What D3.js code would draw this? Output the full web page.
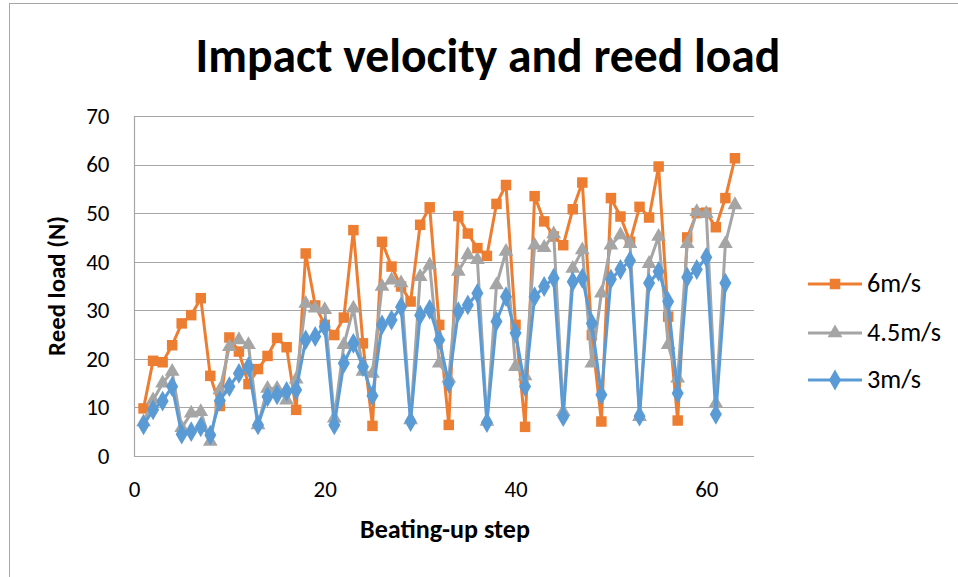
<!DOCTYPE html>
<html>
<head>
<meta charset="utf-8">
<script src="https://cdn.jsdelivr.net/npm/d3@7"></script>
<style>
  html, body { margin: 0; padding: 0; background: #fff; }
  svg { display: block; }
  text { font-family: Carlito, Calibri, Lato, "Open Sans", sans-serif; fill: #000; }
</style>
</head>
<body>
<svg id="chart" width="958" height="577"></svg>
<script>
// Beating-up step numbers and reed loads (N) for three impact velocities
const steps6 = d3.range(1, 64);
const steps45 = d3.range(1, 64);
const steps3 = d3.range(1, 63);

const load6 = [
  9.8, 19.6, 19.3, 22.8, 27.3, 29.0, 32.5, 16.5, 10.3, 24.4,
  21.5, 14.8, 17.9, 20.6, 24.3, 22.4, 9.5, 41.7, 31.0, 27.0,
  24.9, 28.5, 46.5, 23.2, 6.2, 44.1, 39.0, 34.9, 31.8, 47.6,
  51.2, 27.0, 6.4, 49.4, 45.8, 42.8, 41.2, 51.9, 55.8, 27.0,
  6.0, 53.5, 48.3, 45.2, 43.4, 50.8, 56.3, 24.9, 7.1, 53.1,
  49.3, 44.1, 51.3, 49.1, 59.6, 28.7, 7.3, 45.0, 50.0, 50.1,
  47.1, 53.1, 61.3
];
const load45 = [
  7.0, 11.5, 15.0, 17.4, 5.8, 8.8, 9.1, 3.0, 13.6, 22.5,
  23.9, 22.9, 6.4, 13.9, 13.9, 11.5, 15.8, 31.4, 30.4, 30.1,
  7.8, 22.9, 30.4, 17.4, 17.0, 34.9, 36.2, 35.6, 7.4, 36.9,
  39.3, 19.1, 16.0, 38.0, 41.4, 40.4, 7.1, 35.2, 42.1, 18.4,
  16.5, 43.4, 42.9, 45.7, 9.1, 38.6, 42.4, 19.1, 33.5, 43.4,
  45.5, 43.7, 8.1, 39.6, 45.2, 22.9, 16.0, 43.7, 50.3, 49.9,
  10.8, 43.7, 51.7
];
const load3 = [
  6.4, 9.5, 11.3, 14.3, 4.5, 5.0, 6.0, 4.3, 11.4, 14.3,
  17.0, 18.4, 6.4, 12.2, 12.6, 13.3, 13.6, 23.9, 24.6, 26.6,
  6.4, 19.1, 23.2, 18.4, 12.4, 27.0, 28.0, 30.7, 7.1, 29.0,
  30.2, 23.9, 15.0, 29.7, 31.1, 33.5, 6.9, 27.7, 32.8, 25.3,
  14.3, 32.8, 34.9, 36.6, 8.1, 35.9, 36.6, 27.3, 12.6, 36.4,
  38.4, 40.2, 8.2, 35.6, 38.0, 31.8, 12.9, 36.8, 38.4, 40.9,
  8.6, 35.6
];

const seriesNames = ["6m/s", "4.5m/s", "3m/s"];
const seriesColors = ["#ED7D31", "#A5A5A5", "#5B9BD5"];
const seriesSymbols = [d3.symbolSquare, d3.symbolTriangle, d3.symbolDiamond];
const seriesSizes = [110, 95, 125];

const xTicks = [0, 20, 40, 60];
const yTicks = [0, 10, 20, 30, 40, 50, 60, 70];

const titleText = "Impact velocity and reed load";
const xTitle = "Beating-up step";
const yTitle = "Reed load (N)";

const series = [
  { name: seriesNames[0], xs: steps6, ys: load6 },
  { name: seriesNames[1], xs: steps45, ys: load45 },
  { name: seriesNames[2], xs: steps3, ys: load3 }
];

const svg = d3.select("#chart");
const W = 958, H = 577;
const plot = { left: 134, right: 754, top: 116, bottom: 456 };

const x = d3.scaleLinear().domain([0, 65]).range([plot.left, plot.right]);
const y = d3.scaleLinear().domain([0, 70]).range([plot.bottom, plot.top]);

// scale a text element's font so it spans the given width
function fitWidth(sel, base, width) {
  sel.attr("font-size", base);
  const w = sel.node().getComputedTextLength();
  sel.attr("font-size", base * width / w);
  return sel;
}

// outer chart frame
svg.append("rect")
  .attr("x", 9.5).attr("y", 3.5)
  .attr("width", W + 20).attr("height", H + 20)
  .attr("fill", "#fff").attr("stroke", "#A6A6A6").attr("stroke-width", 1);

// title
const title = svg.append("text")
  .attr("x", 488).attr("y", 72)
  .attr("text-anchor", "middle")
  .attr("font-weight", "bold")
  .text(titleText);
fitWidth(title, 40, 585);

// horizontal gridlines
svg.append("g")
  .selectAll("line")
  .data(yTicks.filter(d => d > 0))
  .join("line")
  .attr("x1", plot.left).attr("x2", plot.right)
  .attr("y1", d => Math.round(y(d)) + 0.5).attr("y2", d => Math.round(y(d)) + 0.5)
  .attr("stroke", "#A6A6A6").attr("stroke-width", 1.2);

// axes
const yAxis = d3.axisLeft(y).tickValues(yTicks).tickSize(0).tickPadding(25);
const xAxis = d3.axisBottom(x).tickValues(xTicks).tickSize(0).tickPadding(24);

const gy = svg.append("g").attr("transform", `translate(${plot.left + 0.5},0)`).call(yAxis);
const gx = svg.append("g").attr("transform", `translate(0,${plot.bottom + 0.5})`).call(xAxis);
[gx, gy].forEach(g => {
  g.attr("font-size", null).attr("font-family", null);
  g.select(".domain").attr("stroke", "#A6A6A6").attr("stroke-width", 1.2);
  g.selectAll("text")
    .style("font-family", "Carlito, Calibri, Lato, 'Open Sans', sans-serif")
    .style("font-size", "23px").attr("fill", "#000");
});
gy.select(".domain").attr("d", `M0,${plot.bottom}V${plot.top}`);
gx.select(".domain").attr("d", `M${plot.left},0H${plot.right}`);

// axis titles
const yt = svg.append("text")
  .attr("transform", `translate(65,286) rotate(-90)`)
  .attr("text-anchor", "middle")
  .attr("font-weight", "bold")
  .text(yTitle);
fitWidth(yt, 20, 140);
const xt = svg.append("text")
  .attr("x", 445).attr("y", 538)
  .attr("text-anchor", "middle")
  .attr("font-weight", "bold")
  .text(xTitle);
fitWidth(xt, 20, 170);

// series lines and markers
const line = d3.line().x(d => x(d[0])).y(d => y(d[1]));
series.forEach((s, i) => {
  const pts = s.xs.map((v, j) => [v, s.ys[j]]);
  const g = svg.append("g");
  g.append("path")
    .attr("d", line(pts))
    .attr("fill", "none")
    .attr("stroke", seriesColors[i])
    .attr("stroke-width", 3)
    .attr("stroke-linejoin", "round");
  g.selectAll("path.mk")
    .data(pts)
    .join("path")
    .attr("class", "mk")
    .attr("transform", d => `translate(${x(d[0])},${y(d[1])})`)
    .attr("d", d3.symbol().type(seriesSymbols[i]).size(seriesSizes[i]))
    .attr("fill", seriesColors[i]);
});

// legend
const legendRows = [284, 333, 380];
const lg = svg.append("g");
seriesNames.forEach((name, i) => {
  const row = lg.append("g").attr("transform", `translate(0,${legendRows[i]})`);
  row.append("line")
    .attr("x1", 808).attr("x2", 862)
    .attr("stroke", seriesColors[i]).attr("stroke-width", 3);
  row.append("path")
    .attr("transform", "translate(835,0)")
    .attr("d", d3.symbol().type(seriesSymbols[i]).size(seriesSizes[i]))
    .attr("fill", seriesColors[i]);
  row.append("text")
    .attr("class", "lgt")
    .attr("x", 867).attr("y", 8)
    .text(name);
});
// size the legend labels so the widest one spans its measured width
const lgTexts = lg.selectAll("text.lgt").attr("font-size", 22);
const widest = d3.max(lgTexts.nodes(), n => n.getComputedTextLength());
lgTexts.attr("font-size", 22 * 74 / widest);
</script>
</body>
</html>
